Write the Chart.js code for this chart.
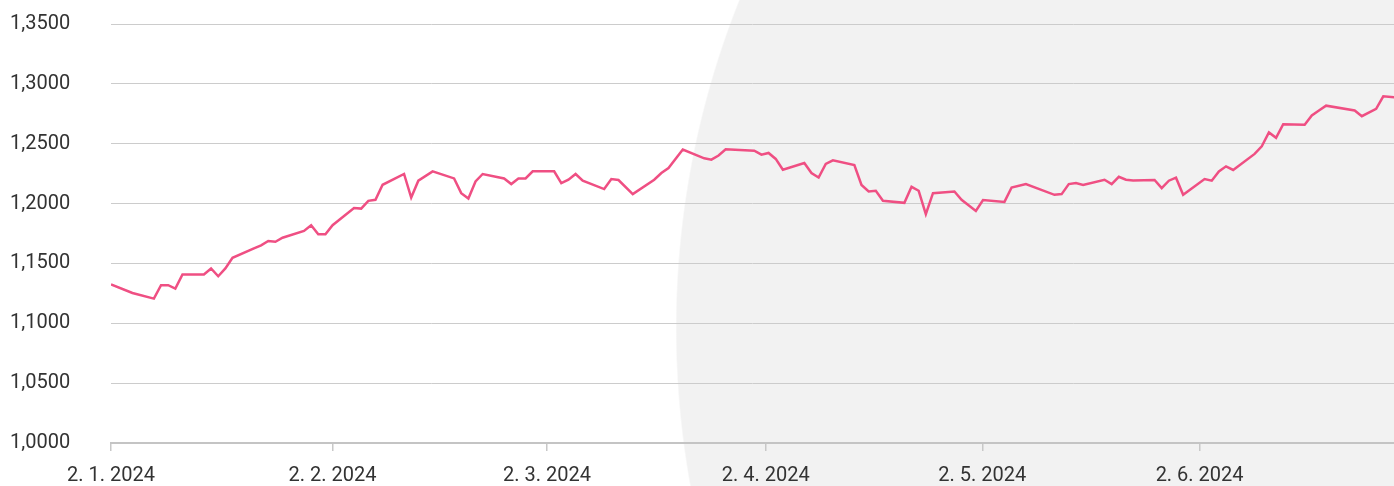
<!DOCTYPE html>
<html>
<head>
<meta charset="utf-8">
<script src="https://cdn.jsdelivr.net/npm/chart.js@4.4.1/dist/chart.umd.min.js"></script>
<style>
  html, body { margin: 0; padding: 0; }
  body {
    width: 1394px; height: 486px; overflow: hidden;
    background: radial-gradient(circle 883px at 1559px 328px, #f2f2f2 882px, #ffffff 883.5px);
  }
  #wrap { position: relative; width: 1394px; height: 486px; }
</style>
</head>
<body>
<div id="wrap"><canvas id="c"></canvas></div>
<script>
// ---- data ----
const dates = [
  '2024-01-02','2024-01-05','2024-01-08','2024-01-09','2024-01-10','2024-01-11','2024-01-12',
  '2024-01-15','2024-01-16','2024-01-17','2024-01-18','2024-01-19',
  '2024-01-22','2024-01-23','2024-01-24','2024-01-25','2024-01-26',
  '2024-01-29','2024-01-30','2024-01-31','2024-02-01','2024-02-02',
  '2024-02-05','2024-02-06','2024-02-07','2024-02-08','2024-02-09',
  '2024-02-12','2024-02-13','2024-02-14','2024-02-16',
  '2024-02-19','2024-02-20','2024-02-21','2024-02-22','2024-02-23',
  '2024-02-26','2024-02-27','2024-02-28','2024-02-29','2024-03-01',
  '2024-03-04','2024-03-05','2024-03-06','2024-03-07','2024-03-08',
  '2024-03-11','2024-03-12','2024-03-13','2024-03-15',
  '2024-03-18','2024-03-19','2024-03-20','2024-03-22',
  '2024-03-25','2024-03-26','2024-03-27','2024-03-28',
  '2024-04-01','2024-04-02','2024-04-03','2024-04-04','2024-04-05',
  '2024-04-08','2024-04-09','2024-04-10','2024-04-11','2024-04-12',
  '2024-04-15','2024-04-16','2024-04-17','2024-04-18','2024-04-19',
  '2024-04-22','2024-04-23','2024-04-24','2024-04-25','2024-04-26',
  '2024-04-29','2024-04-30','2024-05-02','2024-05-03',
  '2024-05-06','2024-05-07','2024-05-09',
  '2024-05-13','2024-05-14','2024-05-15','2024-05-16','2024-05-17',
  '2024-05-20','2024-05-21','2024-05-22','2024-05-23','2024-05-24',
  '2024-05-27','2024-05-28','2024-05-29','2024-05-30','2024-05-31',
  '2024-06-03','2024-06-04','2024-06-05','2024-06-06','2024-06-07',
  '2024-06-10','2024-06-11','2024-06-12','2024-06-13','2024-06-14',
  '2024-06-17','2024-06-18','2024-06-19','2024-06-20',
  '2024-06-24','2024-06-25','2024-06-27','2024-06-28','2024-07-01'
];
const rates = [
  1.1324,1.1253,1.1206,1.1318,1.1318,1.1290,1.1408,
  1.1408,1.1458,1.1393,1.1458,1.1547,
  1.1626,1.1651,1.1687,1.1681,1.1715,
  1.1771,1.1819,1.1743,1.1743,1.1819,
  1.1962,1.1958,1.2023,1.2031,1.2157,
  1.2247,1.2050,1.2191,1.2269,
  1.2210,1.2087,1.2042,1.2185,1.2247,
  1.2210,1.2163,1.2210,1.2210,1.2269,
  1.2269,1.2171,1.2199,1.2247,1.2191,
  1.2121,1.2205,1.2197,1.2079,
  1.2199,1.2255,1.2297,1.2451,
  1.2378,1.2367,1.2401,1.2453,
  1.2442,1.2409,1.2423,1.2373,1.2283,
  1.2339,1.2255,1.2218,1.2331,1.2361,
  1.2322,1.2155,1.2101,1.2107,1.2023,
  1.2006,1.2140,1.2107,1.1911,1.2087,
  1.2101,1.2031,1.1939,1.2029,
  1.2014,1.2134,1.2163,
  1.2073,1.2079,1.2163,1.2171,1.2155,
  1.2199,1.2163,1.2224,1.2199,1.2193,
  1.2197,1.2129,1.2191,1.2216,1.2073,
  1.2205,1.2191,1.2269,1.2311,1.2281,
  1.2415,1.2479,1.2594,1.2549,1.2663,
  1.2658,1.2736,1.2778,1.2818,
  1.2778,1.2730,1.2792,1.2896,1.2880
];
const startDate = '2024-01-02';
const endDate = '2024-06-29T12:00:00Z';
// x-axis tick positions (days after start) and their labels
const xTickDays = [0, 31, 61, 91.6, 121.9, 152.3];
const xTickLabels = ['2. 1. 2024','2. 2. 2024','2. 3. 2024','2. 4. 2024','2. 5. 2024','2. 6. 2024'];
const yMin = 1.0, yMax = 1.35, yStep = 0.05;

// ---- helpers ----
const DAY = 86400000;
const t0 = Date.parse(startDate + 'T00:00:00Z');
const toDay = s => (Date.parse(s.length > 10 ? s : s + 'T00:00:00Z') - t0) / DAY;
const points = dates.map((d, i) => ({ x: toDay(d), y: rates[i] }));

const FONT = { family: 'Roboto', size: 20, weight: '400' };

new Chart(document.getElementById('c'), {
  type: 'line',
  data: {
    datasets: [{
      data: points,
      borderColor: '#ef4f83',
      borderWidth: 2.5,
      pointRadius: 0,
      tension: 0,
      fill: false
    }]
  },
  options: {
    responsive: true,
    maintainAspectRatio: false,
    animation: false,
    layout: { padding: { left: 10, top: 24, right: 0, bottom: 0 } },
    plugins: { legend: { display: false }, tooltip: { enabled: false } },
    scales: {
      x: {
        type: 'linear',
        min: 0,
        max: toDay(endDate),
        afterBuildTicks: s => { s.ticks = xTickDays.map(v => ({ value: v })); },
        afterFit: s => { s.height = 43; },
        ticks: {
          autoSkip: false,
          maxRotation: 0,
          padding: 13,
          color: '#333333',
          font: FONT,
          callback: (v, i) => xTickLabels[i]
        },
        grid: {
          drawOnChartArea: false,
          drawTicks: true,
          tickLength: 8,
          color: '#c8c8c8',
          lineWidth: 1.5
        },
        border: { display: true, color: '#c4c4c4', width: 2 }
      },
      y: {
        min: yMin,
        max: yMax,
        ticks: {
          stepSize: yStep,
          crossAlign: 'far',
          color: '#333333',
          font: FONT,
          callback: v => v.toFixed(4).replace('.', ',')
        },
        afterFit: s => { s.width = 101; },
        grid: { color: '#cccccc', lineWidth: 1, drawTicks: false },
        border: { display: false }
      }
    }
  }
});
</script>
</body>
</html>
